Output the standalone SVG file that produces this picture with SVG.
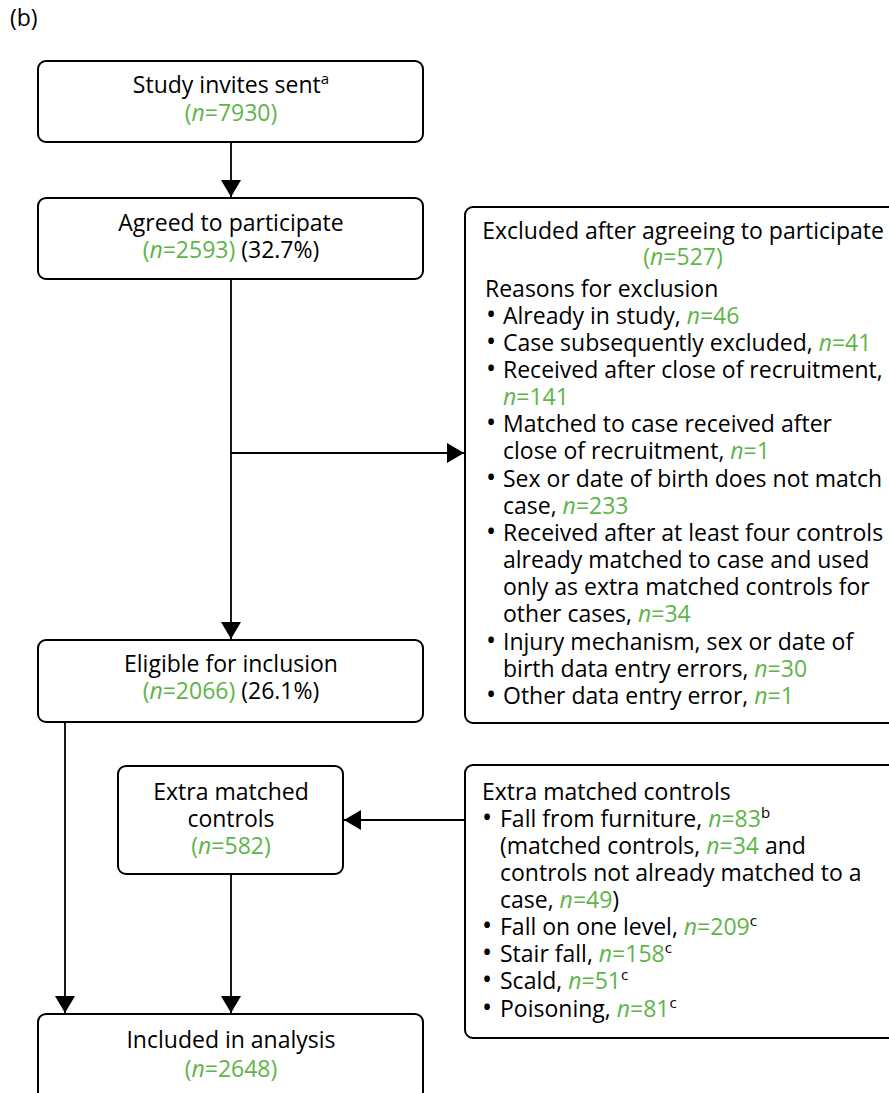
<svg xmlns="http://www.w3.org/2000/svg" width="889" height="1093" viewBox="0 0 889 1093">
<style>
text{font-family:"Open Sans","Noto Sans","Liberation Sans",sans-serif;font-size:23px;fill:#000}
.c{text-anchor:middle}
.g{fill:#5db548}
.i{font-style:italic}
.b{font-size:27px}
.sup{font-size:15px}
.box{fill:#fff;stroke:#000;stroke-width:2}
.ln{fill:none;stroke:#000;stroke-width:1.8}
</style>
<defs>
<marker id="ah" markerUnits="userSpaceOnUse" markerWidth="18" markerHeight="20" refX="17" refY="10" orient="auto">
<path d="M0,0 L17,10 L0,20 Z" fill="#000"/>
</marker>
</defs>
<rect width="889" height="1093" fill="#fff"/>
<text x="10" y="26">(b)</text>
<g id="connectors">
<line class="ln" x1="231" y1="142" x2="231" y2="197" marker-end="url(#ah)"/>
<line class="ln" x1="231" y1="279" x2="231" y2="639" marker-end="url(#ah)"/>
<line class="ln" x1="231" y1="453" x2="464" y2="453" marker-end="url(#ah)"/>
<line class="ln" x1="65" y1="722" x2="65" y2="1013" marker-end="url(#ah)"/>
<line class="ln" x1="231" y1="875" x2="231" y2="1013" marker-end="url(#ah)"/>
<line class="ln" x1="465" y1="820" x2="344" y2="820" marker-end="url(#ah)"/>
</g>
<g id="invites">
<rect class="box" x="38" y="61" width="385" height="81" rx="8"/>
<text class="c" x="231" y="93">Study invites sent<tspan class="sup" dy="-9">a</tspan></text>
<text class="c g" x="231" y="121">(<tspan class="i">n</tspan>=7930)</text>
</g>
<g id="agreed">
<rect class="box" x="38" y="198" width="385" height="81" rx="8"/>
<text class="c" x="231" y="231">Agreed to participate</text>
<text class="c" x="231" y="258"><tspan class="g">(<tspan class="i">n</tspan>=2593)</tspan> (32.7%)</text>
</g>
<g id="excluded">
<rect class="box" x="465" y="207" width="440" height="516" rx="8"/>
<text class="c" x="683" y="239">Excluded after agreeing to participate</text>
<text class="c g" x="683" y="265">(<tspan class="i">n</tspan>=527)</text>
<text x="485" y="297">Reasons for exclusion</text>
<text y="324"><tspan class="b" x="486">•</tspan><tspan x="503">Already in study, </tspan><tspan class="g"><tspan class="i">n</tspan>=46</tspan></text>
<text y="351"><tspan class="b" x="486">•</tspan><tspan x="503">Case subsequently excluded, </tspan><tspan class="g"><tspan class="i">n</tspan>=41</tspan></text>
<text y="378"><tspan class="b" x="486">•</tspan><tspan x="503">Received after close of recruitment,</tspan></text>
<text y="405" x="503" class="g"><tspan class="i">n</tspan>=141</text>
<text y="432"><tspan class="b" x="486">•</tspan><tspan x="503">Matched to case received after</tspan></text>
<text y="459" x="503">close of recruitment, <tspan class="g"><tspan class="i">n</tspan>=1</tspan></text>
<text y="487"><tspan class="b" x="486">•</tspan><tspan x="503">Sex or date of birth does not match</tspan></text>
<text y="514" x="503">case, <tspan class="g"><tspan class="i">n</tspan>=233</tspan></text>
<text y="541"><tspan class="b" x="486">•</tspan><tspan x="503">Received after at least four controls</tspan></text>
<text y="568" x="503">already matched to case and used</text>
<text y="595" x="503">only as extra matched controls for</text>
<text y="622" x="503">other cases, <tspan class="g"><tspan class="i">n</tspan>=34</tspan></text>
<text y="650"><tspan class="b" x="486">•</tspan><tspan x="503">Injury mechanism, sex or date of</tspan></text>
<text y="677" x="503">birth data entry errors, <tspan class="g"><tspan class="i">n</tspan>=30</tspan></text>
<text y="704"><tspan class="b" x="486">•</tspan><tspan x="503">Other data entry error, </tspan><tspan class="g"><tspan class="i">n</tspan>=1</tspan></text>
</g>
<g id="eligible">
<rect class="box" x="38" y="640" width="385" height="82" rx="8"/>
<text class="c" x="231" y="672">Eligible for inclusion</text>
<text class="c" x="231" y="699"><tspan class="g">(<tspan class="i">n</tspan>=2066)</tspan> (26.1%)</text>
</g>
<g id="extra">
<rect class="box" x="118" y="766" width="225" height="108" rx="8"/>
<text class="c" x="231" y="800">Extra matched</text>
<text class="c" x="231" y="827">controls</text>
<text class="c g" x="231" y="854">(<tspan class="i">n</tspan>=582)</text>
</g>
<g id="extra-detail">
<rect class="box" x="465" y="765" width="440" height="273" rx="8"/>
<text x="482" y="800">Extra matched controls</text>
<text y="827"><tspan class="b" x="482">•</tspan><tspan x="500">Fall from furniture, </tspan><tspan class="g"><tspan class="i">n</tspan>=83</tspan><tspan class="sup" dy="-9">b</tspan></text>
<text y="854" x="500">(matched controls, <tspan class="g"><tspan class="i">n</tspan>=34</tspan> and</text>
<text y="881" x="500">controls not already matched to a</text>
<text y="908" x="500">case, <tspan class="g"><tspan class="i">n</tspan>=49</tspan>)</text>
<text y="935"><tspan class="b" x="482">•</tspan><tspan x="500">Fall on one level, </tspan><tspan class="g"><tspan class="i">n</tspan>=209</tspan><tspan class="sup" dy="-9">c</tspan></text>
<text y="962"><tspan class="b" x="482">•</tspan><tspan x="500">Stair fall, </tspan><tspan class="g"><tspan class="i">n</tspan>=158</tspan><tspan class="sup" dy="-9">c</tspan></text>
<text y="989"><tspan class="b" x="482">•</tspan><tspan x="500">Scald, </tspan><tspan class="g"><tspan class="i">n</tspan>=51</tspan><tspan class="sup" dy="-9">c</tspan></text>
<text y="1017"><tspan class="b" x="482">•</tspan><tspan x="500">Poisoning, </tspan><tspan class="g"><tspan class="i">n</tspan>=81</tspan><tspan class="sup" dy="-9">c</tspan></text>
</g>
<g id="included">
<rect class="box" x="38" y="1014" width="385" height="100" rx="8"/>
<text class="c" x="231" y="1048">Included in analysis</text>
<text class="c g" x="231" y="1077">(<tspan class="i">n</tspan>=2648)</text>
</g>
</svg>
